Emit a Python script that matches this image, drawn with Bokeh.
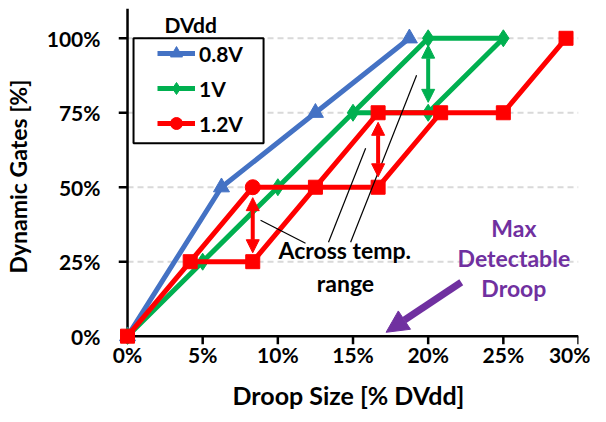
from bokeh.plotting import figure
from bokeh.models import (Range1d, FixedTicker, Legend, LegendItem, Label, Arrow, NormalHead,
                          BoxAnnotation)
from bokeh.embed import file_html
from bokeh.resources import INLINE

# ---------------- data ----------------
x_ticks = [0, 5, 10, 15, 20, 25, 30]
y_ticks = [0, 25, 50, 75, 100]
x_tick_labels = ["0%", "5%", "10%", "15%", "20%", "25%", "30%"]
y_tick_labels = ["0%", "25%", "50%", "75%", "100%"]
y_axis_top = 110

series_names = ["0.8V", "1V", "1.2V"]

# 0.8V
blue_x = [0, 6.25, 12.5, 18.75]
blue_y = [0, 50, 75, 100]

# 1V (two edges of the temperature band)
green_a_x = [0, 5, 10, 15, 20, 25]
green_a_y = [0, 25, 50, 75, 100, 100]
green_b_x = [15, 20, 25]
green_b_y = [75, 75, 100]

# 1.2V (two edges of the temperature band)
red_a_x = [0, 4.17, 8.33, 12.5, 16.67, 20.83, 25, 29.17]
red_a_y = [0, 25, 50, 50, 50, 75, 75, 100]
red_b_x = [4.17, 8.33, 12.5, 16.67, 20.83]
red_b_y = [25, 25, 50, 75, 75]

# annotations (double arrows showing spread across temperature)
band_arrow_x = [8.33, 16.67, 20.0]
band_arrow_lo = [28, 53.5, 78.5]
band_arrow_hi = [46.5, 71.8, 97.7]

# callout leader lines for "Across temp. range"
callout_x0 = [8.85, 13.37, 14.84]
callout_y0 = [38.9, 31.5, 31.5]
callout_x1 = [11.84, 15.84, 19.23]
callout_y1 = [31.2, 63.1, 87.6]

BLUE = "#4472C4"
GREEN = "#00B050"
RED = "#FF0000"
PURPLE = "#7030A0"
FONT = "Lato"

X0, X1 = -0.6, 30.0
Y0, Y1 = -2.8, 110.0
p = figure(width=590, height=420, x_range=Range1d(X0, X1), y_range=Range1d(Y0, Y1),
           output_backend="svg", toolbar_location=None,
           min_border_left=118, min_border_right=12, min_border_top=8, min_border_bottom=76)
p.outline_line_color = None
p.xgrid.visible = False
p.ygrid.visible = False
p.background_fill_color = "white"

# grid lines (dashed) for every non-zero y tick
gy = y_ticks[1:]
p.segment(x0=[x_ticks[0]] * len(gy), x1=[x_ticks[-1]] * len(gy), y0=gy, y1=gy,
          line_color="#D9D9D9", line_width=2, line_dash="6 4")

# axes: labels from Bokeh, lines drawn at data zero
for ax, ticks, labels in ((p.xaxis[0], x_ticks, x_tick_labels), (p.yaxis[0], y_ticks, y_tick_labels)):
    ax.ticker = FixedTicker(ticks=ticks)
    ax.major_label_overrides = {t: l for t, l in zip(ticks, labels)}
    ax.axis_line_color = None
    ax.major_tick_line_color = None
    ax.minor_tick_line_color = None
    ax.major_tick_out = 0
    ax.major_tick_in = 0
    ax.major_label_text_font = FONT
    ax.major_label_text_font_style = "bold"
    ax.major_label_text_font_size = "21px"
    ax.major_label_text_color = "black"
    ax.axis_label_text_font = FONT
    ax.axis_label_text_font_style = "bold"
    ax.axis_label_text_color = "black"

p.xaxis[0].axis_label = "Droop Size [% DVdd]"
p.yaxis[0].axis_label = "Dynamic Gates [%]"
p.xaxis[0].axis_label_text_font_size = "25px"
p.yaxis[0].axis_label_text_font_size = "23px"
p.xaxis[0].major_label_standoff = -3
p.xaxis[0].axis_label_standoff = 10
p.yaxis[0].major_label_standoff = 18
p.yaxis[0].axis_label_standoff = 12

# axis lines and tick marks
AX_W = 2.5
p.segment(x0=[x_ticks[0], x_ticks[0]], y0=[y_ticks[0], y_ticks[0]],
          x1=[x_ticks[-1], x_ticks[0]], y1=[y_ticks[0], y_axis_top],
          line_color="black", line_width=AX_W)
p.segment(x0=x_ticks[1:], y0=[y_ticks[0]] * (len(x_ticks) - 1), x1=x_ticks[1:], y1=[Y0] * (len(x_ticks) - 1),
          line_color="black", line_width=AX_W)
p.segment(x0=[x_ticks[0]] * (len(y_ticks) - 1), y0=y_ticks[1:], x1=[X0] * (len(y_ticks) - 1), y1=y_ticks[1:],
          line_color="black", line_width=AX_W)

LW = 5
# blue
bl = p.line(blue_x, blue_y, line_color=BLUE, line_width=LW)
bs = p.scatter(blue_x, blue_y, marker="triangle", size=16, color=BLUE)
# green
gl = p.line(green_a_x, green_a_y, line_color=GREEN, line_width=LW)
p.line(green_b_x, green_b_y, line_color=GREEN, line_width=LW)
gpts = sorted(set(zip(green_a_x + green_b_x, green_a_y + green_b_y)))
gs = p.scatter([a for a, b in gpts], [b for a, b in gpts], marker="diamond", size=17, color=GREEN)
# red
rl = p.line(red_a_x, red_a_y, line_color=RED, line_width=LW)
p.line(red_b_x, red_b_y, line_color=RED, line_width=LW)
rpts = sorted(set(zip(red_a_x + red_b_x, red_a_y + red_b_y)))
circ_pt = (red_a_x[2], red_a_y[2])
sq = [pt for pt in rpts if pt != circ_pt]
p.scatter([a for a, b in sq], [b for a, b in sq], marker="square", size=14, color=RED)
rc = p.scatter([circ_pt[0]], [circ_pt[1]], marker="circle", size=15, color=RED)

# double arrows
for xa, lo, hi, col in zip(band_arrow_x, band_arrow_lo, band_arrow_hi, [RED, RED, GREEN]):
    p.add_layout(Arrow(start=NormalHead(size=13, fill_color=col, line_color=col),
                       end=NormalHead(size=13, fill_color=col, line_color=col),
                       x_start=xa, y_start=lo, x_end=xa, y_end=hi,
                       line_color=col, line_width=4))

# callout lines
p.segment(x0=callout_x0, y0=callout_y0, x1=callout_x1, y1=callout_y1,
          line_color="black", line_width=1.2)

# text annotations
for txt, x, y in (("Across temp.", 14.45, 28.9), ("range", 14.5, 17.8)):
    p.add_layout(Label(x=x, y=y, text=txt, text_font=FONT, text_font_style="bold",
                       text_font_size="23px", text_align="center", text_baseline="middle",
                       text_color="black"))
for txt, y in (("Max", 36.2), ("Detectable", 26.2), ("Droop", 16.1)):
    p.add_layout(Label(x=25.7, y=y, text=txt, text_font=FONT, text_font_style="bold",
                       text_font_size="23px", text_align="center", text_baseline="middle",
                       text_color=PURPLE))
p.add_layout(Arrow(end=NormalHead(size=22, fill_color=PURPLE, line_color=PURPLE),
                   x_start=22.2, y_start=18.1, x_end=17.2, y_end=1.3,
                   line_color=PURPLE, line_width=7))

# legend frame + legend
p.add_layout(BoxAnnotation(left=0.4, right=9.05, top=100.0, bottom=64.8,
                           fill_color="white", fill_alpha=1.0,
                           line_color="black", line_width=2, line_alpha=1.0))
legend = Legend(items=[LegendItem(label=series_names[0], renderers=[bl, bs]),
                       LegendItem(label=series_names[1], renderers=[gl, gs]),
                       LegendItem(label=series_names[2], renderers=[rl, rc])],
                location=(39, 206), border_line_color=None,
                background_fill_alpha=0.0,
                padding=0, spacing=5, glyph_width=38, glyph_height=30,
                label_height=30, label_standoff=4, margin=0,
                label_text_font=FONT, label_text_font_style="bold",
                label_text_font_size="21px", label_text_color="black")
p.add_layout(legend)
p.add_layout(Label(x=4.2, y=104.7, text="DVdd", text_font=FONT, text_font_style="bold",
                   text_font_size="21px", text_align="center", text_baseline="middle",
                   text_color="black"))

open("out.html", "w").write(file_html(p, INLINE))
